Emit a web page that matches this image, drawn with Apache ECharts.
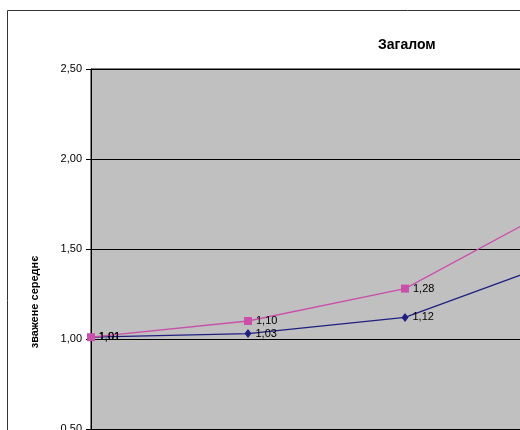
<!DOCTYPE html>
<html>
<head>
<meta charset="utf-8">
<script src="https://cdn.jsdelivr.net/npm/echarts@6/dist/echarts.min.js"></script>
<style>
html,body{margin:0;padding:0;background:#fff;overflow:hidden;width:520px;height:430px;}
#c{width:820px;height:600px;}
</style>
</head>
<body>
<div id="c"></div>
<script>
var categories = ['1', '2', '3', '4'];
var seriesBlue = [1.01, 1.03, 1.12, 1.44];
var seriesPink = [1.01, 1.10, 1.28, 1.75];
var titleText = 'Загалом';
var yAxisTitle = 'зважене середнє';
var yMin = 0, yMax = 2.5, yStep = 0.5;

function fmt(v) { return v.toFixed(2).replace('.', ','); }
var FONT = 'Arial, "Liberation Sans", sans-serif';

var chart = echarts.init(document.getElementById('c'), null, {renderer: 'canvas'});
var labelCfg = {
  show: true, position: 'right', distance: 4,
  color: '#000', fontFamily: FONT, fontSize: 11,
  formatter: function (p) { return fmt(p.value); }
};
chart.setOption({
  animation: false,
  backgroundColor: '#fff',
  title: {
    text: titleText, left: 373, top: 33,
    textStyle: {fontFamily: FONT, fontSize: 14, fontWeight: 'bold', color: '#000'}
  },
  graphic: [
    {type: 'rect', shape: {x: 7.5, y: 10.5, width: 800, height: 580},
     style: {fill: 'none', stroke: '#333', lineWidth: 1}, z: 100, silent: true},
    {type: 'text', x: 35, y: 302, rotation: Math.PI / 2,
     style: {text: yAxisTitle, font: 'bold 11px ' + FONT, fill: '#000',
             textAlign: 'center', textVerticalAlign: 'middle'}}
  ],
  grid: {
    left: 91, top: 69, width: 471, height: 450,
    show: true, backgroundColor: '#C0C0C0', borderColor: '#000', borderWidth: 1
  },
  xAxis: {
    type: 'category', data: categories, boundaryGap: false,
    axisLine: {show: false}, axisTick: {show: false}, axisLabel: {show: false},
    splitLine: {show: false}
  },
  yAxis: {
    type: 'value', min: yMin, max: yMax, interval: yStep,
    axisLine: {show: true, lineStyle: {color: '#000', width: 1}},
    axisTick: {show: true, length: 5, lineStyle: {color: '#000'}},
    axisLabel: {color: '#000', fontFamily: FONT, fontSize: 11, margin: 9,
                formatter: function (v) { return fmt(v); }},
    splitLine: {show: true, lineStyle: {color: '#000', width: 1}}
  },
  series: [
    {
      name: 'blue', type: 'line', data: seriesBlue,
      symbol: 'diamond', symbolSize: [7, 9], showAllSymbol: true,
      lineStyle: {color: '#1F1F80', width: 1.3},
      itemStyle: {color: '#1F1F80'},
      label: labelCfg, z: 3
    },
    {
      name: 'pink', type: 'line', data: seriesPink,
      symbol: 'rect', symbolSize: 8, showAllSymbol: true,
      lineStyle: {color: '#C94FA8', width: 1.3},
      itemStyle: {color: '#C94FA8'},
      label: labelCfg, z: 4
    }
  ]
});
</script>
</body>
</html>
